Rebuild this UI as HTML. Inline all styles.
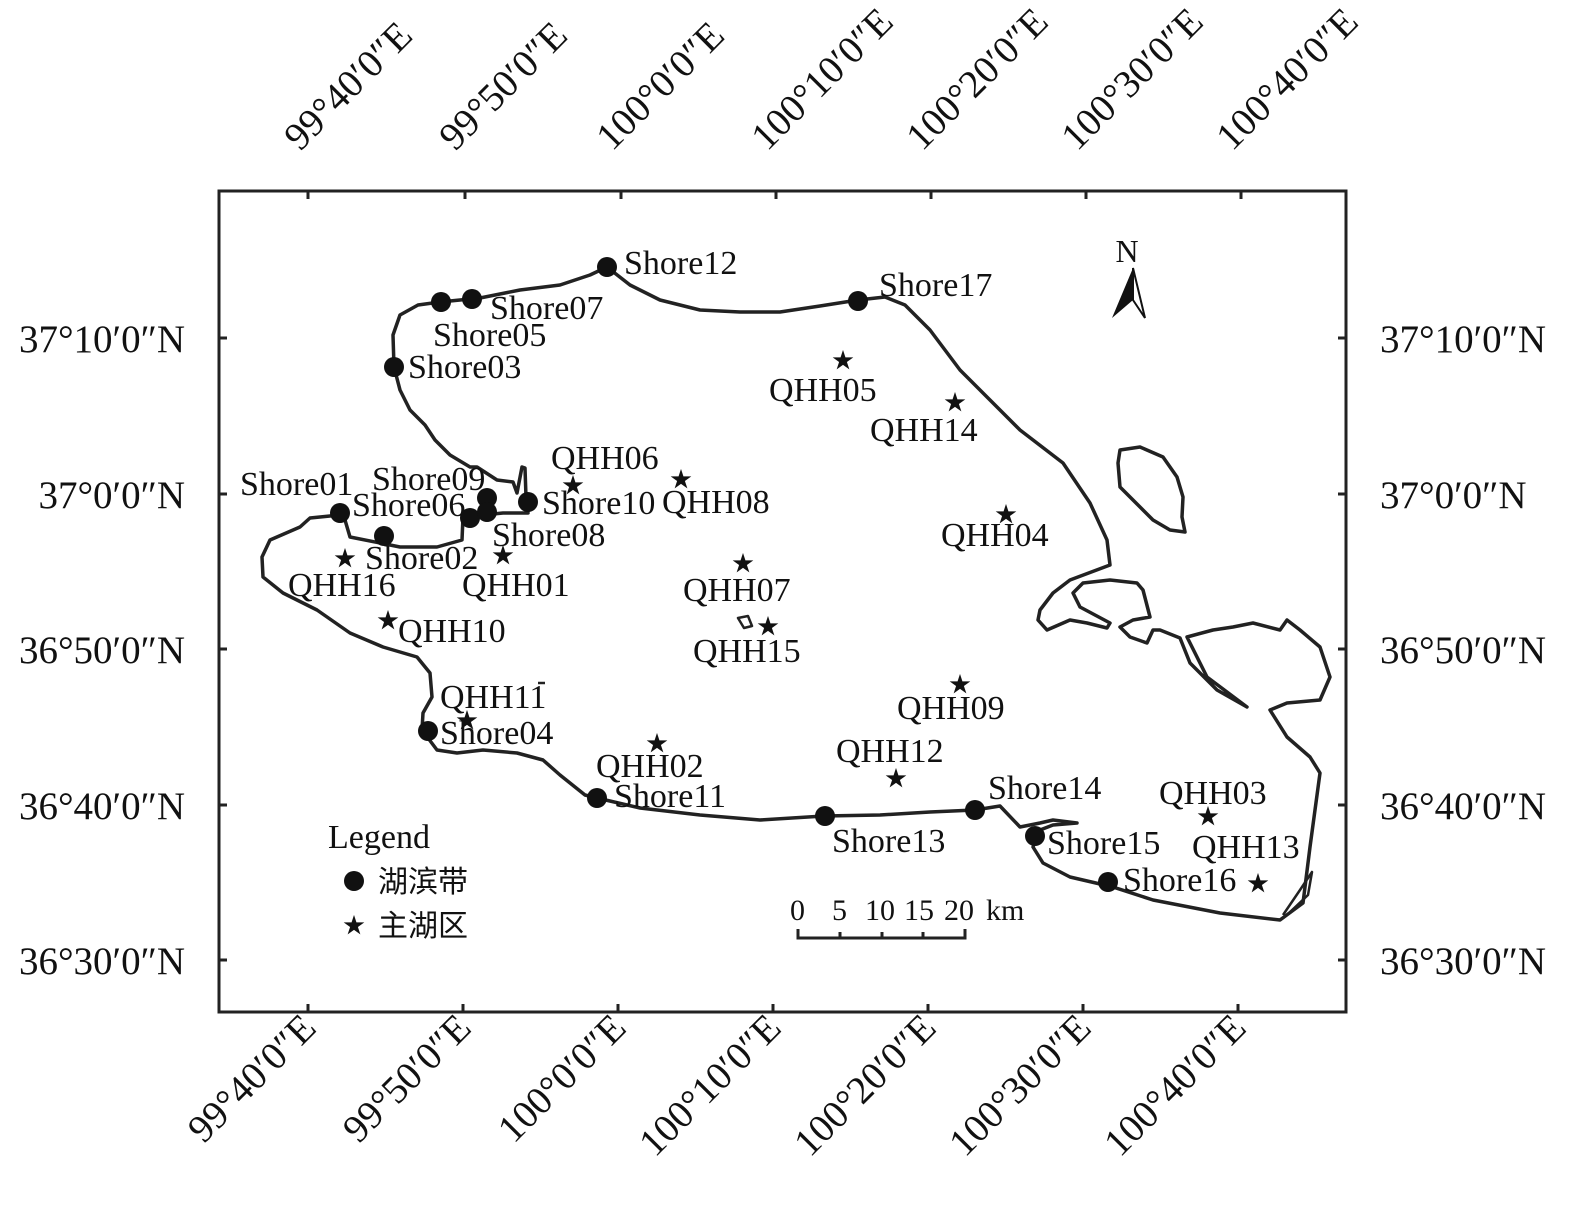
<!DOCTYPE html>
<html><head><meta charset="utf-8"><style>
html,body{margin:0;padding:0;background:#fff}
svg{display:block}
text{font-family:"Liberation Serif","Noto Serif CJK SC",serif;fill:#111}
.l{font-size:34px}
.a{font-size:39px}
.s{font-family:"DejaVu Sans",sans-serif;font-size:22px;text-anchor:middle}
</style></head><body>
<svg width="1575" height="1212" viewBox="0 0 1575 1212" xmlns="http://www.w3.org/2000/svg">
<rect x="219" y="191" width="1127" height="821" fill="none" stroke="#222" stroke-width="3"/>
<g stroke="#222" stroke-width="3">
<line x1="308" y1="191" x2="308" y2="199"/><line x1="465" y1="191" x2="465" y2="199"/><line x1="621" y1="191" x2="621" y2="199"/><line x1="776" y1="191" x2="776" y2="199"/><line x1="931" y1="191" x2="931" y2="199"/><line x1="1086" y1="191" x2="1086" y2="199"/><line x1="1241" y1="191" x2="1241" y2="199"/>
<line x1="308" y1="1012" x2="308" y2="1004"/><line x1="463" y1="1012" x2="463" y2="1004"/><line x1="618" y1="1012" x2="618" y2="1004"/><line x1="773" y1="1012" x2="773" y2="1004"/><line x1="928" y1="1012" x2="928" y2="1004"/><line x1="1083" y1="1012" x2="1083" y2="1004"/><line x1="1238" y1="1012" x2="1238" y2="1004"/>
<line x1="219" y1="338" x2="227" y2="338"/><line x1="219" y1="494" x2="227" y2="494"/><line x1="219" y1="649" x2="227" y2="649"/><line x1="219" y1="805" x2="227" y2="805"/><line x1="219" y1="960" x2="227" y2="960"/>
<line x1="1346" y1="338" x2="1338" y2="338"/><line x1="1346" y1="494" x2="1338" y2="494"/><line x1="1346" y1="649" x2="1338" y2="649"/><line x1="1346" y1="805" x2="1338" y2="805"/><line x1="1346" y1="960" x2="1338" y2="960"/>
</g>
<g class="a">
<text x="185" y="352" text-anchor="end">37°10′0″N</text>
<text x="185" y="508" text-anchor="end">37°0′0″N</text>
<text x="185" y="663" text-anchor="end">36°50′0″N</text>
<text x="185" y="819" text-anchor="end">36°40′0″N</text>
<text x="185" y="974" text-anchor="end">36°30′0″N</text>
<text x="1380" y="352">37°10′0″N</text>
<text x="1380" y="508">37°0′0″N</text>
<text x="1380" y="663">36°50′0″N</text>
<text x="1380" y="819">36°40′0″N</text>
<text x="1380" y="974">36°30′0″N</text>
<text transform="translate(300,152) rotate(-45)">99°40′0″E</text>
<text transform="translate(455,152) rotate(-45)">99°50′0″E</text>
<text transform="translate(612,152) rotate(-45)">100°0′0″E</text>
<text transform="translate(767,152) rotate(-45)">100°10′0″E</text>
<text transform="translate(922,152) rotate(-45)">100°20′0″E</text>
<text transform="translate(1077,152) rotate(-45)">100°30′0″E</text>
<text transform="translate(1232,152) rotate(-45)">100°40′0″E</text>
<text text-anchor="end" transform="translate(318,1030) rotate(-45)">99°40′0″E</text>
<text text-anchor="end" transform="translate(473,1030) rotate(-45)">99°50′0″E</text>
<text text-anchor="end" transform="translate(628,1030) rotate(-45)">100°0′0″E</text>
<text text-anchor="end" transform="translate(783,1030) rotate(-45)">100°10′0″E</text>
<text text-anchor="end" transform="translate(938,1030) rotate(-45)">100°20′0″E</text>
<text text-anchor="end" transform="translate(1093,1030) rotate(-45)">100°30′0″E</text>
<text text-anchor="end" transform="translate(1248,1030) rotate(-45)">100°40′0″E</text>
</g>
<g fill="none" stroke="#222" stroke-width="3.5" stroke-linejoin="round">
<path d="M607,267 L590,275 560,285 520,290 480,298 440,302 418,305 400,315 393,335 394,367 400,390 410,410 425,425 435,440 450,455 470,467 477,467 497,480 513,482 517,493 522,467 525,468 526,497 528,513 503,513 463,517 462,540 437,547 400,547 350,537 345,520 340,515 310,518 300,527 270,540 262,557 263,577 283,593 317,610 350,633 383,647 417,657 430,673 432,697 423,713 422,730 437,750 457,753 483,750 517,753 543,760 560,775 585,795 597,798 640,808 700,815 760,820 824,816 880,815 930,812 975,810 1000,806 1020,827 1040,823 1053,820 1077,823 1053,825 1040,830 1033,847 1043,863 1070,877 1113,887 1153,900 1220,913 1280,920 1303,903 1310,847 1320,773 1310,757 1287,737 1270,710 1287,703 1320,700 1330,677 1320,647 1300,630 1287,620 1280,630 1253,623 1233,627 1213,630 1187,637 1207,677 1247,707 1217,690 1190,663 1180,638 1160,630 1153,630 1147,643 1130,637 1120,627 1133,620 1150,617 1143,590 1137,583 1110,580 1083,583 1073,593 1080,607 1110,623 1107,628 1087,623 1070,620 1047,630 1038,620 1040,610 1053,593 1070,580 1110,565 1107,540 1090,503 1063,463 1020,430 990,400 960,370 930,330 905,305 885,297 858,300 820,306 780,312 740,312 700,310 660,300 630,285 Z"/>
<path d="M1120,450 L1140,447 1163,457 1177,477 1183,497 1182,517 1185,532 1170,530 1153,520 1133,500 1120,487 1118,463 Z"/>
<path d="M738,618 L748,616 752,626 744,628 Z" stroke-width="2.5"/>
<path d="M1283,915 L1300,890 1312,872 1308,895 1290,912" stroke-width="2.5"/>
<line x1="538" y1="683" x2="545" y2="683" stroke-width="2.5"/>
</g>
<g fill="#111">
<circle cx="607" cy="267" r="10"/><circle cx="472" cy="299" r="10"/><circle cx="441" cy="302" r="10"/><circle cx="394" cy="367" r="10"/><circle cx="858" cy="301" r="10"/>
<circle cx="340" cy="513" r="10"/><circle cx="384" cy="536" r="10"/><circle cx="470" cy="518" r="10"/><circle cx="487" cy="498" r="10"/><circle cx="487" cy="512" r="10"/><circle cx="528" cy="502" r="10"/>
<circle cx="428" cy="731" r="10"/><circle cx="597" cy="798" r="10"/><circle cx="825" cy="816" r="10"/><circle cx="975" cy="810" r="10"/><circle cx="1035" cy="836" r="10"/><circle cx="1108" cy="882" r="10"/>
<circle cx="354" cy="881" r="10"/>
</g>
<g class="s">
<text x="345" y="566">★</text><text x="503" y="563">★</text><text x="388" y="628">★</text><text x="467" y="728">★</text>
<text x="573" y="493">★</text><text x="681" y="487">★</text><text x="743" y="571">★</text><text x="768" y="634">★</text>
<text x="843" y="368">★</text><text x="955" y="410">★</text><text x="1006" y="522">★</text><text x="960" y="692">★</text>
<text x="896" y="786">★</text><text x="657" y="751">★</text><text x="1208" y="824">★</text><text x="1258" y="891">★</text>
<text x="354" y="933">★</text>
</g>
<g class="l">
<text x="624" y="274">Shore12</text><text x="490" y="319">Shore07</text><text x="433" y="346">Shore05</text><text x="408" y="378">Shore03</text><text x="879" y="296">Shore17</text>
<text x="240" y="495">Shore01</text><text x="372" y="490">Shore09</text><text x="352" y="516">Shore06</text><text x="542" y="514">Shore10</text><text x="492" y="546">Shore08</text><text x="365" y="569">Shore02</text>
<text x="288" y="596">QHH16</text><text x="462" y="596">QHH01</text><text x="398" y="642">QHH10</text><text x="440" y="708">QHH11</text><text x="440" y="744">Shore04</text>
<text x="551" y="469">QHH06</text><text x="662" y="513">QHH08</text><text x="683" y="601">QHH07</text><text x="693" y="662">QHH15</text>
<text x="769" y="401">QHH05</text><text x="870" y="441">QHH14</text><text x="941" y="546">QHH04</text><text x="897" y="719">QHH09</text>
<text x="836" y="762">QHH12</text><text x="596" y="777">QHH02</text><text x="614" y="807">Shore11</text><text x="832" y="852">Shore13</text>
<text x="988" y="799">Shore14</text><text x="1047" y="854">Shore15</text><text x="1123" y="891">Shore16</text><text x="1159" y="804">QHH03</text><text x="1192" y="858">QHH13</text>
<text x="328" y="848">Legend</text>
<text x="378" y="892" style="font-family:'Noto Sans CJK SC',sans-serif;font-size:30px">湖滨带</text>
<text x="378" y="936" style="font-family:'Noto Sans CJK SC',sans-serif;font-size:30px">主湖区</text>
<text x="790" y="920" style="font-size:30px">0</text><text x="832" y="920" style="font-size:30px">5</text><text x="865" y="920" style="font-size:30px">10</text><text x="904" y="920" style="font-size:30px">15</text><text x="944" y="920" style="font-size:30px">20</text><text x="986" y="920" style="font-size:30px">km</text>
<text x="1127" y="262" text-anchor="middle" style="font-size:32px">N</text>
</g>
<g stroke="#222" stroke-width="3" fill="none">
<path d="M798,929 V938 H965 V929 M840,938 V932 M882,938 V932 M923,938 V932"/>
</g>
<path d="M1133,268 L1112,318 1133,300 Z" fill="#111"/>
<path d="M1133,268 L1145,318 1133,300 Z" fill="none" stroke="#111" stroke-width="2"/>
</svg>
</body></html>
